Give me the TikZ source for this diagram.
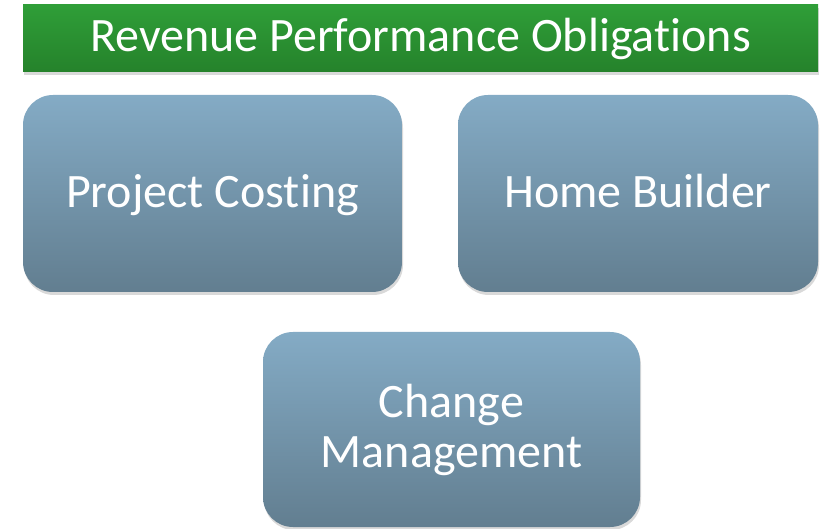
\documentclass[tikz,border=0pt]{standalone}
\usepackage{fontspec}
\setmainfont{Carlito}[Ligatures={NoCommon,NoContextual}, Contextuals=NoAlternate]
\usetikzlibrary{positioning,shadows}

\definecolor{bannertop}{HTML}{2F9E38}
\definecolor{bannerbottom}{HTML}{25822B}
\definecolor{blocktop}{HTML}{84ABC5}
\definecolor{blockbottom}{HTML}{627E90}

\begin{document}
\begin{tikzpicture}[
				x=1pt, y=-1pt,
				banner/.style={inner sep=0pt, outer sep=0pt, minimum width=795pt, minimum height=67pt, text height=38pt, text depth=11pt, top color=bannertop, bottom color=bannerbottom, text=white, font=\fontsize{48}{50}\selectfont, drop shadow={shadow xshift=1pt, shadow yshift=-3pt, opacity=0.3}},
				block/.style={inner sep=0pt, outer sep=0pt, rounded corners=30pt, minimum width=379pt, minimum height=197pt, top color=blocktop, bottom color=blockbottom, text=white, font=\fontsize{48}{50}\selectfont, align=center, drop shadow={shadow xshift=1pt, shadow yshift=-3pt, opacity=0.3}},
				oneline/.style={text height=40pt, text depth=11pt},
			]
				\useasboundingbox (0,0) rectangle (820,529);
				\node[banner] (title) at (420.5,38.5) {Revenue Performance Obligations};

				\node[block, oneline, below right=23pt and 0pt of title.south west] (costing) {Project Costing};
				\node[block, oneline, minimum width=360pt, right=56pt of costing] (builder) {Home Builder};
				\node[block, minimum width=377pt, minimum height=195pt, below right=40pt and 240pt of costing.south west] (change) {Change\\Management};
			\end{tikzpicture}
\end{document}
